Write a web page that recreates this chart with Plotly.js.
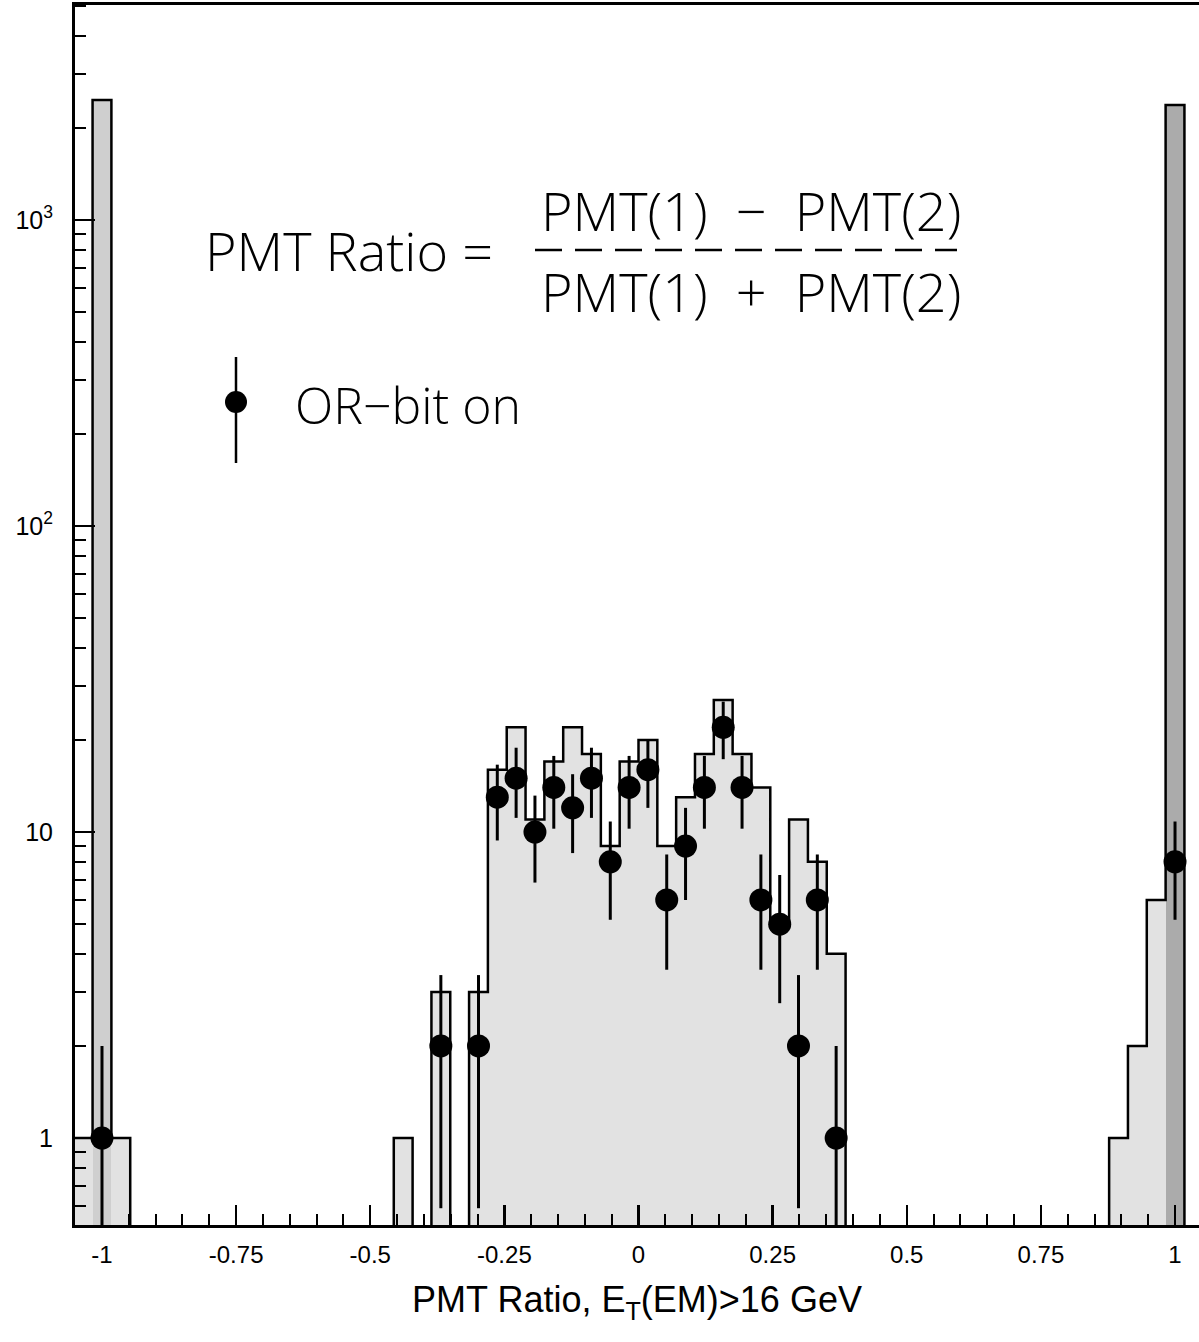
<!DOCTYPE html>
<html>
<head>
<meta charset="utf-8">
<script src="https://cdn.plot.ly/plotly-3.0.1.min.js"></script>
<style>html,body{margin:0;padding:0;background:#fff;}#chart{width:1199px;height:1342px;}</style>
</head>
<body>
<div id="chart"></div>
<script>
// ---- data ----
const binWidth = 2 / 57;   // histogram bin width

// shaded histogram (all events) : bin centres and contents
const histCenters = [-1.0351, -1.0000, -0.9649,
  -0.4386, -0.3684, -0.2982, -0.2632, -0.2281, -0.1930, -0.1579, -0.1228, -0.0877,
  -0.0526, -0.0175, 0.0175, 0.0526, 0.0877, 0.1228, 0.1579, 0.1930, 0.2281,
  0.2632, 0.2982, 0.3333, 0.3684,
  0.8947, 0.9298, 0.9649, 1.0000];
const histCounts = [1, 2470, 1,
  1, 3, 3, 16, 22, 11, 17, 22, 18,
  9, 17, 20, 9, 13, 18, 27, 18, 14,
  5, 11, 8, 4,
  1, 2, 6, 2380];

// OR-bit on points
const dataCenters = [-1.0000, -0.3684, -0.2982, -0.2632, -0.2281, -0.1930, -0.1579, -0.1228,
  -0.0877, -0.0526, -0.0175, 0.0175, 0.0526, 0.0877, 0.1228, 0.1579, 0.1930, 0.2281,
  0.2632, 0.2982, 0.3333, 0.3684, 1.0000];
const dataCounts = [1, 2, 2, 13, 15, 10, 14, 12, 15, 8, 14, 16, 6, 9, 14, 22, 14, 6, 5, 2, 6, 1, 8];
const dataErrors = [1, 1.41, 1.41, 3.61, 3.87, 3.16, 3.74, 3.46, 3.87, 2.83, 3.74, 4, 2.45, 3,
  3.74, 4.69, 3.74, 2.45, 2.24, 1.41, 2.45, 1, 2.83];

const xTickVals = [-1, -0.75, -0.5, -0.25, 0, 0.25, 0.5, 0.75, 1];
const xTickText = ['-1', '-0.75', '-0.5', '-0.25', '0', '0.25', '0.5', '0.75', '1'];
const yTickVals = [1, 10, 100, 1000];
const yTickText = ['1', '10', '10<sup>2</sup>', '10<sup>3</sup>'];

// ---- build step outline of the histogram ----
const FLOOR = 0.01; // below the visible axis range: empty bins
const kOf = c => Math.round((c + 1) / binWidth);
const kList = histCenters.map(kOf);
const kMin = Math.min(...kList), kMax = Math.max(...kList);
const byK = {};
kList.forEach((k, i) => { byK[k] = histCounts[i]; });
const edge = k => -1 + (k - 0.5) * binWidth;
const stepX = [edge(kMin)], stepY = [FLOOR];
for (let k = kMin; k <= kMax; k++) {
  stepX.push(edge(k));
  stepY.push(byK[k] ? byK[k] : FLOOR);
}
stepX.push(edge(kMax + 1)); stepY.push(FLOOR);

// fill shade per bin (style only)
const fillColors = histCounts.map((v, i) => v > 1000 ? (histCenters[i] < 0 ? '#cfcfcf' : '#ababab') : '#e2e2e2');

const traces = [
  { type: 'bar', x: histCenters, y: histCounts, width: binWidth,
    marker: { color: fillColors, line: { width: 0 } }, hoverinfo: 'x+y', showlegend: false },
  { type: 'scatter', mode: 'lines', x: stepX, y: stepY,
    line: { shape: 'hv', color: '#000', width: 2.5 }, hoverinfo: 'skip', showlegend: false },
  { type: 'scatter', mode: 'markers', x: dataCenters, y: dataCounts, name: 'OR\u2212bit on',
    marker: { color: '#000', size: 23 },
    error_y: { type: 'data', array: dataErrors, visible: true, color: '#000', thickness: 3, width: 0 },
    showlegend: false }
];

const W = 1199, H = 1342, L = 75, R = 0, T = 5, B = 117;
const pw = W - L - R, ph = H - T - B;
const px = X => (X - L) / pw;
const py = Y => (H - B - Y) / ph;

const formulaFont = { family: '"Open Sans", Roboto, "Liberation Sans", Arial, sans-serif', size: 54, color: '#000', weight: 300 };
const legendFont = { family: '"Open Sans", Roboto, "Liberation Sans", Arial, sans-serif', size: 50, color: '#000', weight: 300 };
const SP = '\u00a0\u00a0';

const layout = {
  width: W, height: H,
  margin: { l: L, r: R, t: T, b: B },
  paper_bgcolor: '#fff', plot_bgcolor: '#fff',
  showlegend: false,
  bargap: 0,
  font: { family: '"Liberation Sans", Arial, Helvetica, sans-serif', color: '#000' },
  xaxis: {
    range: [-1.0503, 1.0447],
    tickmode: 'array', tickvals: xTickVals, ticktext: xTickText,
    ticks: 'inside', ticklen: 20, tickwidth: 2.5, tickcolor: '#000',
    minor: { dtick: 0.05, tick0: 0, ticks: 'inside', ticklen: 11, tickwidth: 2, tickcolor: '#000' },
    showline: true, linewidth: 3, linecolor: '#000', mirror: true,
    showgrid: false, zeroline: false,
    tickfont: { size: 24, color: '#000' },
    ticklabelstandoff: 6,
    title: { text: 'PMT Ratio, E<sub>T</sub>(EM)>16 GeV', font: { size: 36, color: '#000' }, standoff: 21 }
  },
  yaxis: {
    type: 'log',
    range: [-0.284, 3.703],
    tickmode: 'array', tickvals: yTickVals, ticktext: yTickText,
    ticks: 'inside', ticklen: 20, tickwidth: 2.5, tickcolor: '#000',
    minor: { dtick: 'D1', ticks: 'inside', ticklen: 11, tickwidth: 2, tickcolor: '#000' },
    showline: true, linewidth: 3, linecolor: '#000', mirror: false,
    showgrid: false, zeroline: false,
    tickfont: { size: 25, color: '#000' },
    ticklabelstandoff: 14
  },
  annotations: [
    { xref: 'paper', yref: 'paper', x: px(203), y: py(250), xanchor: 'left', yanchor: 'middle',
      text: 'PMT Ratio =', showarrow: false, font: formulaFont },
    { xref: 'paper', yref: 'paper', x: px(751), y: py(210), xanchor: 'center', yanchor: 'middle',
      text: 'PMT(1)' + SP + '\u2212' + SP + 'PMT(2)', showarrow: false, font: formulaFont },
    { xref: 'paper', yref: 'paper', x: px(751), y: py(291), xanchor: 'center', yanchor: 'middle',
      text: 'PMT(1)' + SP + '+' + SP + 'PMT(2)', showarrow: false, font: formulaFont },
    { xref: 'paper', yref: 'paper', x: px(293), y: py(405), xanchor: 'left', yanchor: 'middle',
      text: 'OR\u2212bit on', showarrow: false, font: legendFont }
  ],
  shapes: [
    // fraction bar (dashed)
    { type: 'line', xref: 'paper', yref: 'paper', x0: px(535), x1: px(957), y0: py(250), y1: py(250),
      line: { color: '#000', width: 2.5, dash: '27px,13px' } },
    // legend symbol: error bar + dot
    { type: 'line', xref: 'paper', yref: 'paper', x0: px(236), x1: px(236), y0: py(357), y1: py(463),
      line: { color: '#000', width: 2.5 } },
    { type: 'circle', xref: 'paper', yref: 'paper', xsizemode: 'pixel', ysizemode: 'pixel',
      xanchor: px(236), yanchor: py(402), x0: -11, x1: 11, y0: -11, y1: 11,
      fillcolor: '#000', line: { color: '#000', width: 0 } }
  ]
};

Plotly.newPlot('chart', traces, layout, { displayModeBar: false, staticPlot: true });
</script>
</body>
</html>
